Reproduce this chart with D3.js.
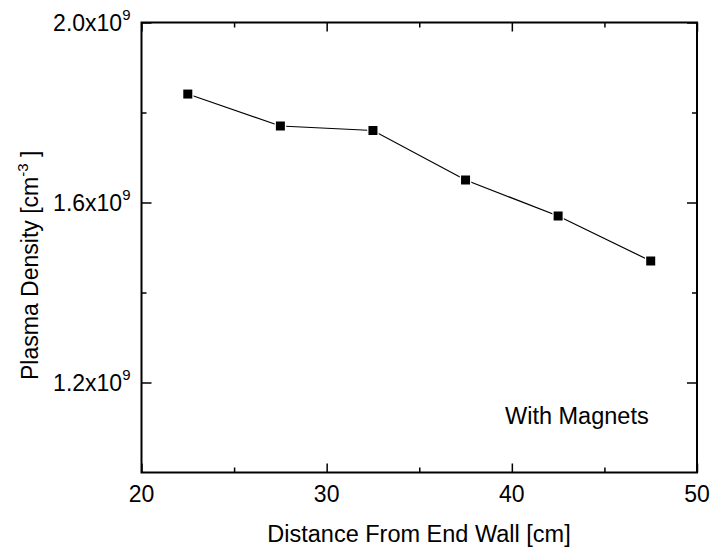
<!DOCTYPE html>
<html>
<head>
<meta charset="utf-8">
<script src="https://cdn.jsdelivr.net/npm/d3@7"></script>
<style>
  html, body { margin: 0; padding: 0; background: #fff; }
  svg { display: block; font-family: Arial, "Liberation Sans", sans-serif; }
</style>
</head>
<body>
<svg id="chart" width="714" height="552"></svg>
<script>
// ---- data ----
const distances = [22.5, 27.5, 32.5, 37.5, 42.5, 47.5];
const densities = [1.841e9, 1.770e9, 1.760e9, 1.650e9, 1.570e9, 1.470e9];
const xMajorTicks = [20, 30, 40, 50];
const xMinorTicks = [25, 35, 45];
const yMajorTicks = [1.2e9, 1.6e9, 2.0e9];
const yMinorTicks = [1.4e9, 1.8e9];
const xTitle = "Distance From End Wall [cm]";
const annotation = "With Magnets";

// ---- layout ----
const svg = d3.select("#chart");
const L = 141.5, R = 697, T = 22.5, B = 472.5;
const x = d3.scaleLinear().domain([20, 50]).range([L, R]);
const y = d3.scaleLinear().domain([1.0e9, 2.0e9]).range([B, T]);
const fs = 23.5;
const fsTick = 23;
const fsSup = 15;

function addAxis(axisGen, transform) {
  const g = svg.append("g").attr("transform", transform).call(axisGen);
  g.selectAll("path.domain").remove();
  g.selectAll("text").remove();
  g.selectAll("line").attr("stroke", "#000").attr("stroke-width", 1.5);
  return g;
}
// ticks point inward on all four sides
addAxis(d3.axisBottom(x).tickValues(xMajorTicks).tickSize(-9), `translate(0,${B})`);
addAxis(d3.axisBottom(x).tickValues(xMinorTicks).tickSize(-5), `translate(0,${B})`);
addAxis(d3.axisTop(x).tickValues(xMajorTicks).tickSize(-9), `translate(0,${T})`);
addAxis(d3.axisTop(x).tickValues(xMinorTicks).tickSize(-5), `translate(0,${T})`);
addAxis(d3.axisLeft(y).tickValues(yMajorTicks).tickSize(-10), `translate(${L},0)`);
addAxis(d3.axisLeft(y).tickValues(yMinorTicks).tickSize(-5), `translate(${L},0)`);
addAxis(d3.axisRight(y).tickValues(yMajorTicks).tickSize(-10), `translate(${R},0)`);
addAxis(d3.axisRight(y).tickValues(yMinorTicks).tickSize(-5), `translate(${R},0)`);

svg.append("rect")
  .attr("x", L).attr("y", T).attr("width", R - L).attr("height", B - T)
  .attr("fill", "none").attr("stroke", "#000").attr("stroke-width", 2);

// x tick labels
svg.append("g").selectAll("text").data(xMajorTicks).join("text")
  .attr("x", d => x(d)).attr("y", B + 29)
  .attr("text-anchor", "middle").attr("font-size", fsTick)
  .text(d => d);

// y tick labels with superscript exponent
const yl = svg.append("g").selectAll("text").data(yMajorTicks).join("text")
  .attr("x", L - 11).attr("y", d => y(d) + 8.5)
  .attr("text-anchor", "end").attr("font-size", fsTick);
yl.append("tspan").text(d => (d / 1e9).toFixed(1) + "x10");
yl.append("tspan").attr("font-size", fsSup).attr("dy", -11).text("9");

// axis titles
svg.append("text")
  .attr("x", 419).attr("y", 541.5)
  .attr("text-anchor", "middle").attr("font-size", fs)
  .text(xTitle);

const yt = svg.append("text")
  .attr("transform", "translate(37.5,380) rotate(-90)")
  .attr("text-anchor", "start").attr("font-size", 23);
yt.append("tspan").text("Plasma Density [cm");
yt.append("tspan").attr("font-size", fsSup).attr("dy", -10).text("-3");
yt.append("tspan").attr("dy", 10).text(" ]");

// annotation
svg.append("text")
  .attr("x", 505).attr("y", 423.5)
  .attr("font-size", fs).text(annotation);

// data line + markers
const pts = distances.map((d, i) => [d, densities[i]]);
svg.append("path")
  .datum(pts)
  .attr("fill", "none").attr("stroke", "#000").attr("stroke-width", 1.2)
  .attr("d", d3.line().x(d => x(d[0])).y(d => y(d[1])));

const ms = 9;
svg.append("g").selectAll("rect").data(pts).join("rect")
  .attr("x", d => x(d[0]) - ms / 2).attr("y", d => y(d[1]) - ms / 2)
  .attr("width", ms).attr("height", ms)
  .attr("fill", "#000").attr("stroke", "#fff").attr("stroke-width", 2.5)
  .attr("paint-order", "stroke");
</script>
</body>
</html>
